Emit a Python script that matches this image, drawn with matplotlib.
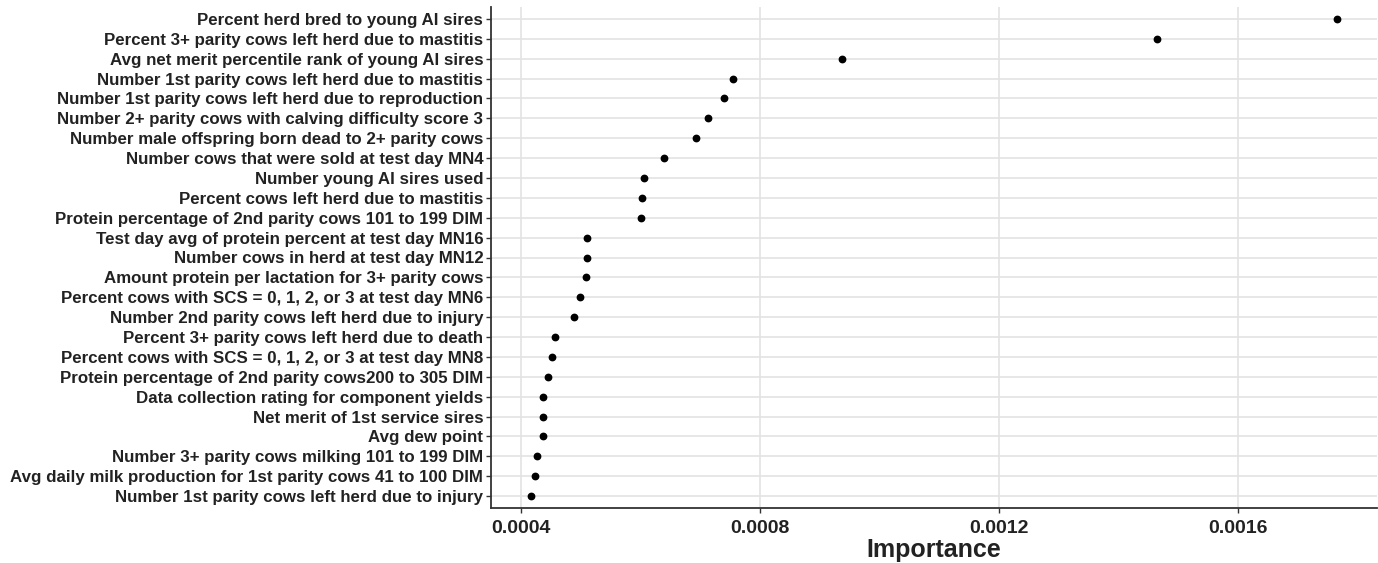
import matplotlib.pyplot as plt

# features listed top to bottom, importance
features = [
    "Percent herd bred to young AI sires",
    "Percent 3+ parity cows left herd due to mastitis",
    "Avg net merit percentile rank of young AI sires",
    "Number 1st parity cows left herd due to mastitis",
    "Number 1st parity cows left herd due to reproduction",
    "Number 2+ parity cows with calving difficulty score 3",
    "Number male offspring born dead to 2+ parity cows",
    "Number cows that were sold at test day MN4",
    "Number young AI sires used",
    "Percent cows left herd due to mastitis",
    "Protein percentage of 2nd parity cows 101 to 199 DIM",
    "Test day avg of protein percent at test day MN16",
    "Number cows in herd at test day MN12",
    "Amount protein per lactation for 3+ parity cows",
    "Percent cows with SCS = 0, 1, 2, or 3 at test day MN6",
    "Number 2nd parity cows left herd due to injury",
    "Percent 3+ parity cows left herd due to death",
    "Percent cows with SCS = 0, 1, 2, or 3 at test day MN8",
    "Protein percentage of 2nd parity cows200 to 305 DIM",
    "Data collection rating for component yields",
    "Net merit of 1st service sires",
    "Avg dew point",
    "Number 3+ parity cows milking 101 to 199 DIM",
    "Avg daily milk production for 1st parity cows 41 to 100 DIM",
    "Number 1st parity cows left herd due to injury",
]
importance = [
    0.001765, 0.001465, 0.000938, 0.000755, 0.000740,
    0.000714, 0.000694, 0.000640, 0.000607, 0.000604,
    0.000601, 0.000512, 0.000511, 0.000510, 0.000500,
    0.000489, 0.000457, 0.000452, 0.000446, 0.000437,
    0.000437, 0.000437, 0.000428, 0.000425, 0.000418,
]
xticks = [0.0004, 0.0008, 0.0012, 0.0016]

plt.rcParams['font.family'] = ['Liberation Sans', 'DejaVu Sans']
plt.rcParams['font.weight'] = 'bold'

fig = plt.figure(figsize=(13.78, 5.63), dpi=100)
ax = fig.add_axes([491/1378, 1 - 508/563, 886/1378, 501/563])

ypos = list(range(len(features)))[::-1]
ax.plot(importance, ypos, 'o', color='black', markersize=4.6, zorder=3)

ax.set_yticks(ypos)
ax.set_yticklabels(features, fontsize=12.2, color='#222222')
ax.set_xticks(xticks)
ax.set_xticklabels([f"{t:.4f}" for t in xticks], fontsize=14, color='#222222')
ax.set_ylim(-0.6, len(features) - 0.4)
ax.margins(x=0.05)

ax.grid(True, color='#e3e3e3', linewidth=1.2)
ax.set_axisbelow(True)
for s in ['top', 'right']:
    ax.spines[s].set_visible(False)
for s in ['left', 'bottom']:
    ax.spines[s].set_color('#333333')
    ax.spines[s].set_linewidth(1.3)
ax.tick_params(length=3.5, width=1, color='#333333')
ax.tick_params(axis='y', pad=2)
ax.tick_params(axis='x', pad=5)

ax.set_xlabel("Importance", fontsize=18, fontweight='bold', color='#222222', labelpad=1)

fig.savefig("out.png", dpi=100)
